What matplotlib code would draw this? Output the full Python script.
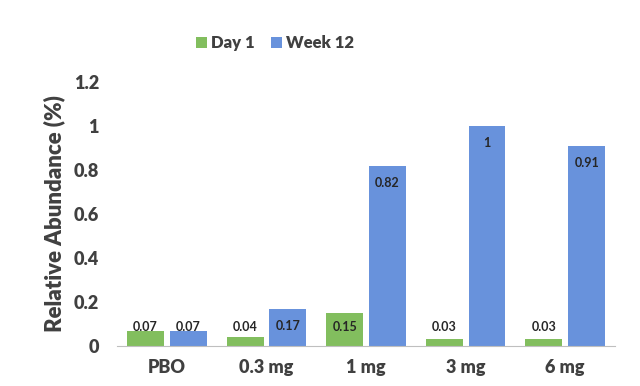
import matplotlib
matplotlib.use("Agg")
import matplotlib.pyplot as plt
import numpy as np

categories = ["PBO", "0.3 mg", "1 mg", "3 mg", "6 mg"]
day1 = [0.07, 0.04, 0.15, 0.03, 0.03]
week12 = [0.07, 0.17, 0.82, 1.0, 0.91]
value_labels_day1 = ["0.07", "0.04", "0.15", "0.03", "0.03"]
value_labels_week12 = ["0.07", "0.17", "0.82", "1", "0.91"]
yticks = [0, 0.2, 0.4, 0.6, 0.8, 1.0, 1.2]
ytick_labels = ["0", "0.2", "0.4", "0.6", "0.8", "1", "1.2"]

plt.rcParams['font.family'] = ['Lato', 'DejaVu Sans']
txt = '#404040'
green = '#82BE5E'
blue = '#6892DC'

fig = plt.figure(figsize=(6.4, 3.86), dpi=100)
ax = fig.add_axes([0.183, 0.1036, 0.778, 0.684])

x = np.arange(len(categories))
w = 0.37
off = 0.215
b1 = ax.bar(x - off, day1, w, color=green, label="Day 1")
b2 = ax.bar(x + off, week12, w, color=blue, label="Week 12")

for xs, vals, labs in ((x - off, day1, value_labels_day1), (x + off, week12, value_labels_week12)):
    for xi, v, l in zip(xs, vals, labs):
        y = max(v - 0.078, 0.085)
        ax.text(xi, y, l, ha='center', va='center', fontsize=9, fontweight='bold', color='#262626')

ax.set_xlim(-0.5, len(categories) - 0.5)
ax.set_ylim(0, 1.2)
ax.set_yticks(yticks)
ax.set_yticklabels(ytick_labels)
ax.set_xticks(x)
ax.set_xticklabels(categories)
for s in ('top', 'right', 'left'):
    ax.spines[s].set_visible(False)
ax.spines['bottom'].set_color('#bfbfbf')
ax.tick_params(axis='both', length=0, labelsize=13, colors=txt)
ax.tick_params(axis='y', pad=13)
ax.tick_params(axis='x', pad=9)
for t in ax.get_xticklabels() + ax.get_yticklabels():
    t.set_fontweight('heavy')
ax.set_ylabel("Relative Abundance (%)", fontsize=16, fontweight='heavy', color=txt, labelpad=6)

leg = fig.legend(handles=[b1, b2], loc='center', bbox_to_anchor=(0.43, 0.888), ncol=2,
                 frameon=False, fontsize=12, handlelength=0.65, handleheight=0.65,
                 handletextpad=0.25, columnspacing=1.0)
for t in leg.get_texts():
    t.set_fontweight('heavy')
    t.set_color(txt)

fig.savefig("out.png", dpi=100)
